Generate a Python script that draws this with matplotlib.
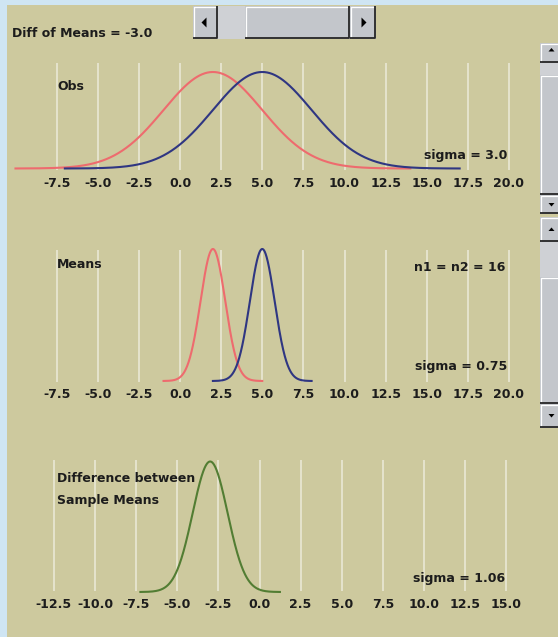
import numpy as np
import matplotlib
matplotlib.use("Agg")
import matplotlib.pyplot as plt
from matplotlib.patches import Rectangle, Polygon

# ---- model values -------------------------------------------------------
diff_of_means = -3.0
group_means = [2.0, 5.0]          # red group, blue group
obs_sigma = 3.0
n_per_group = 16
means_sigma = 0.75
diff_sigma = 1.06

obs_ticks = [-7.5, -5.0, -2.5, 0.0, 2.5, 5.0, 7.5, 10.0, 12.5, 15.0, 17.5, 20.0]
diff_ticks = [-12.5, -10.0, -7.5, -5.0, -2.5, 0.0, 2.5, 5.0, 7.5, 10.0, 12.5, 15.0]

group_colors = ["#ee6b6e", "#2f3682"]
diff_color = "#527d33"

# ---- styling ------------------------------------------------------------
W, H, DPI = 558, 637, 100
KHAKI = "#cdc99e"
EDGE_BLUE = "#cfe5f3"
GRID = "#e7e5d0"
BTN = "#c3c6cb"
TRACK = "#cfd1d5"
DARK = "#262626"
TXT = "#1c1c1c"
FONT = dict(family="DejaVu Sans", weight="bold", size=9)
CURVE_LW = 1.5

plt.rcParams["font.family"] = ["DejaVu Sans"]

fig = plt.figure(figsize=(W / DPI, H / DPI), dpi=DPI)
fig.patch.set_facecolor(KHAKI)


def pixel_axes(z):
    """Full-figure axes in pixel coordinates, y growing downward."""
    a = fig.add_axes([0, 0, 1, 1], zorder=z)
    a.set_xlim(0, W)
    a.set_ylim(H, 0)
    a.axis("off")
    a.patch.set_visible(False)
    return a


bg = pixel_axes(0)     # frame, scrollbars
fg = pixel_axes(5)     # captions drawn above the grid lines

bg.add_patch(Rectangle((0, 0), W, 5, fc=EDGE_BLUE, ec="none"))
bg.add_patch(Rectangle((0, 0), 7, H, fc=EDGE_BLUE, ec="none"))


def raised(x0, y0, x1, y1, face=BTN):
    bg.add_patch(Rectangle((x0, y0), x1 - x0, y1 - y0, fc=face, ec="none"))
    bg.plot([x0 + 0.5, x0 + 0.5, x1 - 1], [y1 - 1, y0 + 0.5, y0 + 0.5],
            color="white", lw=0.9, solid_capstyle="butt")
    bg.plot([x0, x1 - 0.7, x1 - 0.7], [y1 - 0.7, y1 - 0.7, y0],
            color=DARK, lw=1.3, solid_capstyle="butt")


def tri(points):
    bg.add_patch(Polygon(points, closed=True, fc="black", ec="none"))


# horizontal slider for the difference of means
bg.add_patch(Rectangle((193, 6), 183, 33, fc=TRACK, ec="none"))
raised(193, 6, 218, 39)
tri([(201.5, 22.5), (206.5, 17.5), (206.5, 27.5)])
raised(245, 6, 350, 39)
raised(350, 6, 376, 39)
tri([(361.5, 17.5), (366.5, 22.5), (361.5, 27.5)])

# vertical scrollbars on the right edge
raised(540, 43, 560, 63)
tri([(548.5, 51.5), (551.5, 48), (554.5, 51.5)])
bg.add_patch(Rectangle((540, 63), 20, 132, fc=TRACK, ec="none"))
raised(540, 75, 560, 195)
raised(540, 195, 560, 214)
tri([(548.5, 203), (551.5, 206.5), (554.5, 203)])

raised(540, 217, 560, 242)
tri([(548.5, 231), (551.5, 227.5), (554.5, 231)])
bg.add_patch(Rectangle((540, 242), 20, 162, fc=TRACK, ec="none"))
raised(540, 277, 560, 404)
raised(540, 404, 560, 428)
tri([(548.5, 414), (551.5, 417.5), (554.5, 414)])


def bell(mu, sd):
    x = np.linspace(mu - 4 * sd, mu + 4 * sd, 600)
    return x, np.exp(-0.5 * ((x - mu) / sd) ** 2)


def panel(ticks, zero_px, base_px, peak_px, grid_top, grid_bot, label_px):
    unit = 16.45  # pixels per x unit
    left_px, right_px = 8, 536
    ax = fig.add_axes([left_px / W, 1 - base_px / H,
                       (right_px - left_px) / W, (base_px - peak_px) / H],
                      zorder=2)
    ax.set_xlim((left_px - zero_px) / unit, (right_px - zero_px) / unit)
    ax.set_ylim(0, 1)
    ax.patch.set_visible(False)
    for s in ax.spines.values():
        s.set_visible(False)
    ax.set_yticks([])
    ax.set_xticks(ticks)
    ax.set_xticklabels([f"{t:.1f}" for t in ticks], **FONT, color=TXT)
    pad_px = label_px - base_px - 5
    ax.tick_params(axis="x", length=0, pad=pad_px * 72 / DPI)
    span = base_px - peak_px
    ax.vlines(ticks, (base_px - grid_bot) / span, (base_px - grid_top) / span,
              colors=GRID, lw=1.3, clip_on=False, zorder=1)
    return ax


def label(x, y, s, ha="left"):
    # y is the visual centre of the capitals; convert to a baseline
    fg.text(x, y + 4.6, s, ha=ha, va="baseline", color=TXT, **FONT)


# Observations
ax1 = panel(obs_ticks, 180, 168.5, 72, 63, 170, 182)
for mu, c in zip(group_means, group_colors):
    x, y = bell(mu, obs_sigma)
    ax1.plot(x, y, color=c, lw=CURVE_LW, clip_on=False, zorder=3)

# Sampling distributions of the means
ax2 = panel(obs_ticks, 180, 381, 249, 250, 382, 393)
for mu, c in zip(group_means, group_colors):
    x, y = bell(mu, means_sigma)
    ax2.plot(x, y, color=c, lw=CURVE_LW, clip_on=False, zorder=3)

# Difference between sample means
ax3 = panel(diff_ticks, 259.5, 592, 461.5, 460, 591, 603)
x, y = bell(diff_of_means, diff_sigma)
ax3.plot(x, y, color=diff_color, lw=CURVE_LW, clip_on=False, zorder=3)

label(12.5, 32, f"Diff of Means = {diff_of_means:.1f}")
label(57, 85, "Obs")
label(507, 154, f"sigma = {obs_sigma:.1f}", ha="right")
label(57, 263, "Means")
label(505, 266, f"n1 = n2 = {n_per_group}", ha="right")
label(507, 365, f"sigma = {means_sigma:.2f}", ha="right")
label(57, 477, "Difference between")
label(57, 499, "Sample Means")
label(505, 577, f"sigma = {diff_sigma:.2f}", ha="right")

fig.savefig("out.png", dpi=DPI, facecolor=KHAKI)
